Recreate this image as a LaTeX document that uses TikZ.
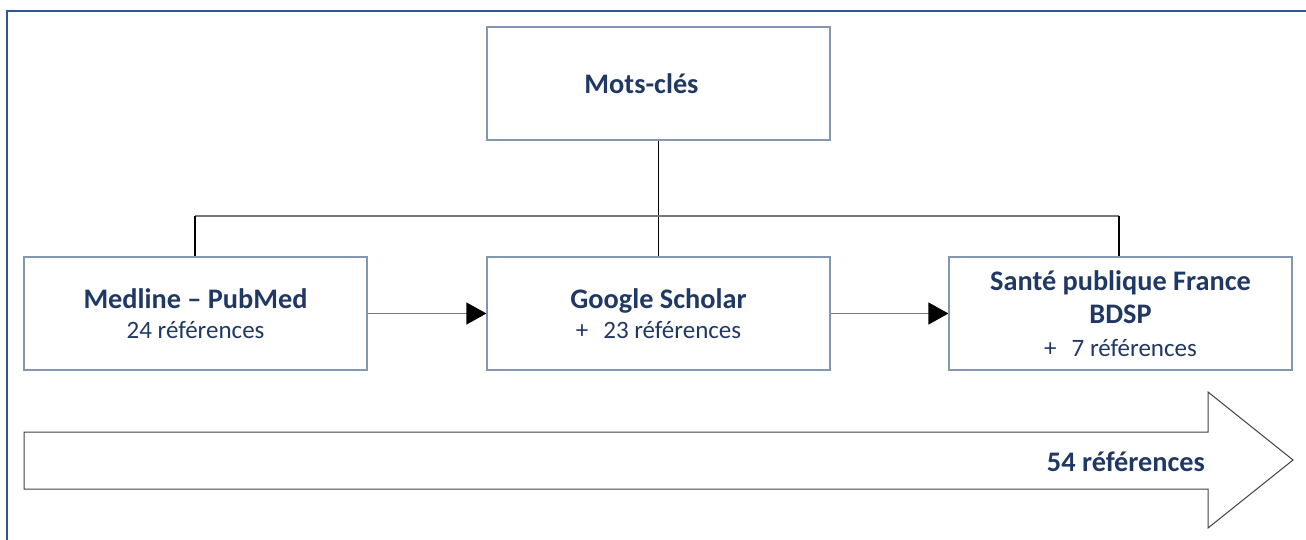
\documentclass[tikz,border=0pt]{standalone}
\usepackage{fontspec}
\setmainfont{Carlito}
\usetikzlibrary{arrows.meta}
\definecolor{navy}{RGB}{32,56,100}
\definecolor{boxline}{RGB}{132,151,176}
\definecolor{frameblue}{RGB}{47,85,151}
\definecolor{lgray}{RGB}{118,118,118}
\newcommand{\ttlfont}{\fontsize{28.3}{32}\selectfont\bfseries}
\newcommand{\subfont}{\fontsize{25}{32}\selectfont\mdseries}
\tikzset{
  box/.style={draw=boxline, line width=1.2pt, minimum width=343pt, minimum height=113pt, inner sep=0pt, align=center, text=navy, font=\subfont},
  link/.style={black, line width=1.2pt},
  flow/.style={lgray, line width=1.2pt, -{Triangle[length=20pt,width=22pt,fill=black,color=black]}}
}
\begin{document}
\begin{tikzpicture}[x=1pt,y=-1pt]
\useasboundingbox (0,0) rectangle (1306,540);
% frame
\draw[frameblue, line width=2.2pt] (7,541) -- (7,11) -- (1307,11);
% boxes
\node[box] (mots) at (658.5,83.5) {\ttlfont Mots-clés\hspace*{34pt}};
\node[box] (medline) at (195.5,313.5) {\ttlfont Medline – PubMed\\[-2pt]\subfont 24 références};
\node[box] (google) at (658.5,313.5) {\ttlfont Google Scholar\\[-2pt]\subfont +\hspace{15pt}23 références};
\node[box] (sante) at (1120.5,313.5) {\ttlfont Santé publique France\\[1pt]\ttlfont BDSP\\[1pt]\subfont +\hspace{15pt}7 références};
% tree connectors
\coordinate (jl) at (195,216);
\coordinate (jr) at (1119,216);
\draw[link] (mots.south) -- (google.north);
\draw[lgray, line width=1.2pt] (jl) -- (jr);
\draw[link] (jl) -- (jl |- medline.north);
\draw[link] (jr) -- (jr |- sante.north);
% flow arrows
\draw[flow] (medline.east) -- (google.west);
\draw[flow] (google.east) -- (sante.west);
% big arrow
\draw[black!75, line width=1pt] (24,432) -- (1208,432) -- (1208,392) -- (1293,460) -- (1208,528) -- (1208,489) -- (24,489) -- cycle;
\node[text=navy, font=\ttlfont] (total) at (1126,462) {54 références};
\end{tikzpicture}
\end{document}
